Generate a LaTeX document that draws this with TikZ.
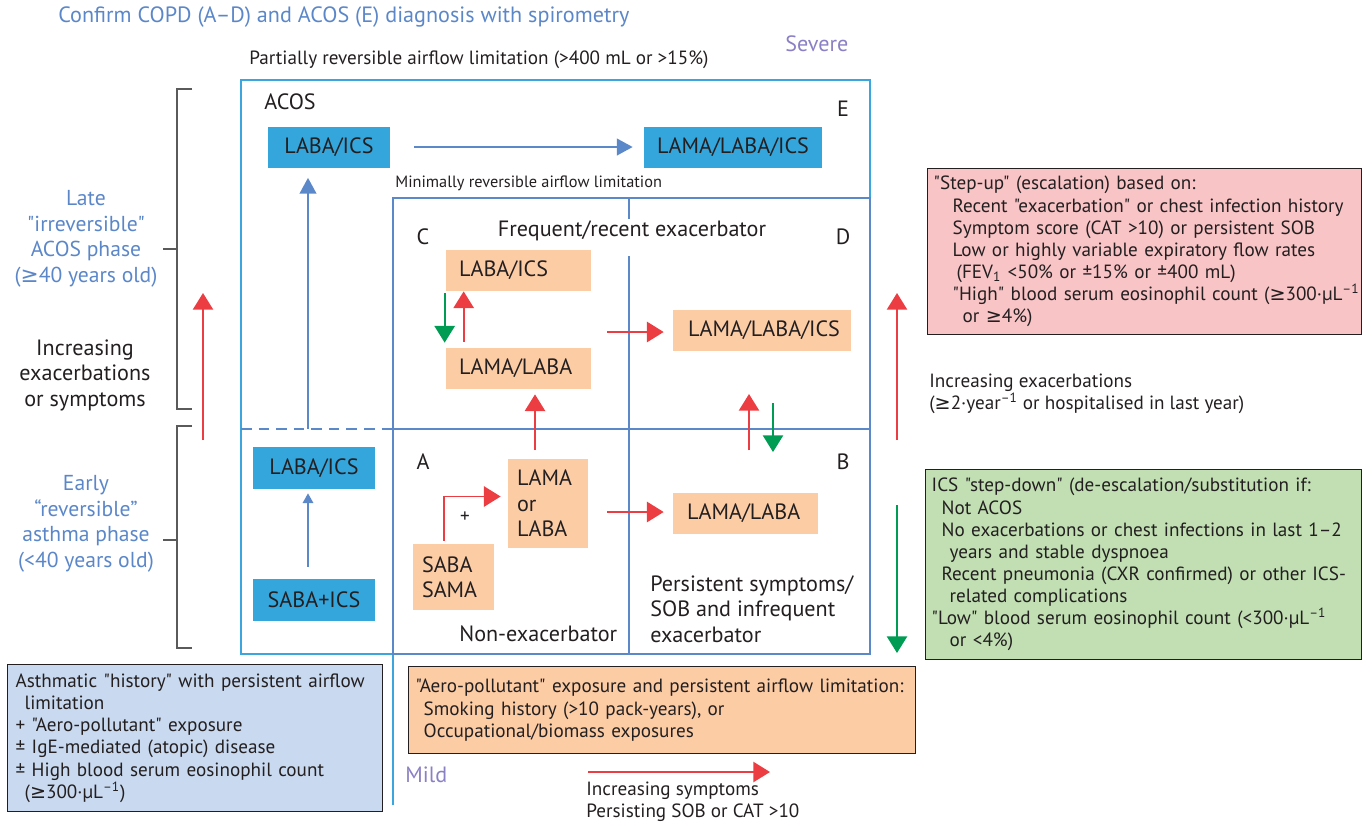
\documentclass[tikz,border=0pt]{standalone}
\usepackage{fontspec}
\setmainfont{PT Sans}[Ligatures=TeXOff]
\newfontfamily\symfont{DejaVu Sans}
\usetikzlibrary{arrows.meta}

\definecolor{textdark}{RGB}{35,31,32}
\definecolor{titleblue}{RGB}{91,135,201}
\definecolor{sevpurple}{RGB}{138,128,196}
\definecolor{cyanline}{RGB}{58,166,221}
\definecolor{lineblue}{RGB}{91,136,200}
\definecolor{nodeblue}{RGB}{52,166,220}
\definecolor{orangefill}{RGB}{252,204,165}
\definecolor{arrowred}{RGB}{236,62,66}
\definecolor{arrowgreen}{RGB}{0,156,84}
\definecolor{pinkfill}{RGB}{248,196,198}
\definecolor{greenfill}{RGB}{193,223,179}
\definecolor{bluefill}{RGB}{201,217,239}
\definecolor{bracketgray}{RGB}{90,90,90}

\newcommand{\geqs}{{\symfont\char"2265}}
\newcommand{\perul}{·μL\textsuperscript{–1}}

\begin{document}
\begin{tikzpicture}[x=0.02cm,y=-0.02cm,
    bluebox/.style={fill=nodeblue,inner sep=0pt,text=textdark,font=\fontsize{12.6}{14.5}\selectfont},
    orangebox/.style={fill=orangefill,inner sep=0pt,text=textdark,font=\fontsize{12.6}{14.5}\selectfont,align=left},
    areatext/.style={inner sep=0pt,text=textdark,font=\fontsize{12.6}{14.5}\selectfont,align=left},
    phasetext/.style={inner sep=0pt,text=titleblue,font=\fontsize{12.3}{14.5}\selectfont,align=center},
    smalltext/.style={inner sep=0pt,text=textdark,font=\fontsize{10.9}{12.6}\selectfont,align=left},
    infobox/.style={smalltext,draw=textdark,line width=0.8pt,anchor=north west,inner xsep=0.12cm},
    frame/.style={line width=1.6pt},
    redarrow/.style={arrowred,line width=1.1pt,-{Triangle[length=9.5pt,width=11.5pt]}},
    greenarrow/.style={arrowgreen,line width=1.1pt,-{Triangle[length=9.5pt,width=11.5pt]}},
    bluearrow/.style={lineblue,line width=1.1pt,-{Triangle[length=9pt,width=9.5pt]}},
    thinarrow/.style={lineblue,line width=0.8pt,-{Triangle[length=5.5pt,width=6pt]}},
  ]
  \useasboundingbox (0,0) rectangle (1369,823);

  % frames of the ACOS area and the A-D grid
  \draw[frame,cyanline] (870,198) -- (870,80) -- (241,80) -- (241,654) -- (393,654) -- (393,805);
  \draw[frame,lineblue] (393,198) rectangle (870,654);
  \draw[frame,lineblue] (393,429) -- (870,429);
  \draw[frame,lineblue] (629,198) -- (629,219) (629,256) -- (629,654);
  \draw[frame,lineblue,dashed,dash pattern=on 6pt off 4pt] (241,429) -- (393,429);

  % brackets
  \draw[bracketgray,line width=1pt] (192,89) -- (177,89) -- (177,409) -- (192,409) (177,249) -- (163,249);
  \draw[bracketgray,line width=1pt] (192,426) -- (177,426) -- (177,648) -- (192,648) (177,540) -- (163,540);

  % treatment boxes
  \node[bluebox,minimum width=2.44cm,minimum height=0.82cm] (eLabaIcs) at (329,147) {LABA/ICS};
  \node[bluebox,minimum width=3.56cm,minimum height=0.82cm] (eTriple) at (733,147) {LAMA/LABA/ICS};
  \node[bluebox,minimum width=2.44cm,minimum height=0.84cm] (earlyLabaIcs) at (314,468) {LABA/ICS};
  \node[bluebox,minimum width=2.44cm,minimum height=0.84cm] (sabaIcs) at (314,600) {SABA+ICS};
  \node[orangebox,inner xsep=0.26cm,text width=2.38cm,minimum height=0.82cm] (cLabaIcs) at (518.5,270.5) {LABA/ICS};
  \node[orangebox,inner xsep=0.26cm,text width=2.38cm,minimum height=0.82cm] (cLamaLaba) at (518.5,368.5) {LAMA/LABA};
  \node[orangebox,inner xsep=0.3cm,text width=2.96cm,minimum height=0.82cm] (dTriple) at (762,330.5) {LAMA/LABA/ICS};
  \node[orangebox,inner xsep=0.18cm,text width=1.24cm,minimum height=1.78cm] (aLamaOr) at (548,503.5) {LAMA\\or\\LABA};
  \node[orangebox,inner xsep=0.18cm,text width=1.26cm,minimum height=1.32cm] (sabaSama) at (453.5,577) {SABA\\SAMA};
  \node[orangebox,inner xsep=0.28cm,text width=2.34cm,minimum height=0.82cm] (bLamaLaba) at (745.5,513.5) {LAMA/LABA};

  % texts
  \node[inner sep=0pt,text=titleblue,font=\fontsize{12.6}{14}\selectfont,anchor=west] (title) at (58,17) {Confirm COPD (A–D) and ACOS (E) diagnosis with spirometry};
  \node[smalltext,anchor=west] (partial) at (249,60) {Partially reversible airflow limitation (>400 mL or >15\%)};
  \node[areatext,text=sevpurple,anchor=west] (severe) at (785,44) {Severe};
  \node[areatext,text=sevpurple,anchor=west] (mild) at (405,775) {Mild};
  \node[areatext,anchor=west] (acos) at (264,102) {ACOS};
  \node[areatext] (areaE) at (843,109) {E};
  \node[areatext] (areaC) at (423,237) {C};
  \node[areatext] (areaD) at (843,237) {D};
  \node[areatext] (areaA) at (423,462) {A};
  \node[areatext] (areaB) at (843,462) {B};
  \node[smalltext,font=\fontsize{9.3}{11}\selectfont,anchor=west] (minimal) at (395,183) {Minimally reversible airflow limitation};
  \node[areatext] (frequent) at (632,231) {Frequent/recent exacerbator};
  \node[areatext,anchor=west] (nonexac) at (459,634) {Non-exacerbator};
  \node[areatext,anchor=west] (persistent) at (650,609) {Persistent symptoms/\\SOB and infrequent\\exacerbator};
  \node[smalltext] (plus) at (465,517) {+};
  \node[phasetext] (latePhase) at (86,239) {Late\\"irreversible"\\ACOS phase\\(\geqs40 years old)};
  \node[areatext,align=center] (incLeft) at (85,375) {Increasing\\exacerbations\\or symptoms};
  \node[phasetext] (earlyPhase) at (86,524) {Early\\“reversible”\\asthma phase\\(<40 years old)};
  \node[smalltext,anchor=west] (incRight) at (929,394) {Increasing exacerbations\\(\geqs2·year\textsuperscript{–1} or hospitalised in last year)};
  \node[smalltext,anchor=west] (incBottom) at (586,802) {Increasing symptoms\\Persisting SOB or CAT >10};

  % information boxes
  \node[infobox,fill=pinkfill,text width=8.44cm,minimum height=3.32cm] (stepUp) at (927,168) {"Step-up" (escalation) based on:\\
    \hspace*{0.38cm}Recent "exacerbation" or chest infection history\\
    \hspace*{0.38cm}Symptom score (CAT >10) or persistent SOB\\
    \hspace*{0.38cm}Low or highly variable expiratory flow rates\\
    \hspace*{0.46cm}(FEV\textsubscript{1} <50\% or ±15\% or ±400 mL)\\
    \hspace*{0.38cm}\mbox{"High" blood serum eosinophil count (\geqs300\perul}\\
    \hspace*{0.58cm}or \geqs4\%)};
  \node[infobox,fill=greenfill,text width=8.48cm,minimum height=3.8cm] (stepDown) at (925,469) {ICS "step-down" (de-escalation/substitution if:\\
    \hspace*{0.2cm}Not ACOS\\
    \hspace*{0.2cm}No exacerbations or chest infections in last 1–2\\
    \hspace*{0.36cm}years and stable dyspnoea\\
    \hspace*{0.2cm}Recent pneumonia (CXR confirmed) or other ICS-\\
    \hspace*{0.36cm}related complications\\
    \mbox{"Low" blood serum eosinophil count (<300\perul}\\
    \hspace*{0.36cm}or <4\%)};
  \node[infobox,fill=bluefill,text width=7.18cm,minimum height=2.94cm,inner xsep=0.16cm] (asthmaHist) at (7,664) {Asthmatic "history" with persistent airflow\\
    \hspace*{0.18cm}limitation\\
    + "Aero-pollutant" exposure\\
    ± IgE-mediated (atopic) disease\\
    ± High blood serum eosinophil count\\
    \hspace*{0.18cm}(\geqs300\perul)};
  \node[infobox,fill=orangefill,text width=9.86cm,minimum height=1.74cm,inner xsep=0.14cm] (pollutant) at (408,666) {"Aero-pollutant" exposure and persistent airflow limitation:\\
    \hspace*{0.16cm}Smoking history (>10 pack-years), or\\
    \hspace*{0.16cm}Occupational/biomass exposures};

  % connectors
  \coordinate (dashMid) at (308,429);
  \coordinate (cOut) at (607,332);
  \coordinate (aUp) at (535,450);
  \coordinate (aOut) at (607,512);
  \coordinate (bdUpStart) at (749,450);
  \coordinate (bdUpEnd) at (749,394);
  \coordinate (bdDownStart) at (773,403);
  \coordinate (bdDownEnd) at (773,452);
  \coordinate (leftUpStart) at (203,440);
  \coordinate (leftUpEnd) at (203,293);
  \coordinate (rightUpStart) at (897,440);
  \coordinate (rightUpEnd) at (897,293);
  \coordinate (rightDownStart) at (897,505);
  \coordinate (rightDownEnd) at (897,653);
  \coordinate (symStart) at (588,772);
  \coordinate (symEnd) at (770,772);

  \draw[bluearrow,shorten <=0.48cm,shorten >=0.22cm] (eLabaIcs) -- (eTriple);
  \draw[bluearrow,shorten >=0.2cm] (dashMid) -- (dashMid |- eLabaIcs.south);
  \draw[thinarrow,shorten <=0.24cm,shorten >=0.08cm] ([xshift=-0.12cm]sabaIcs.north) -- ([xshift=-0.12cm]earlyLabaIcs.south);
  \draw[greenarrow,shorten <=0.04cm,shorten >=0.1cm] ([xshift=-0.02cm]cLabaIcs.south west) -- ([xshift=-0.02cm]cLamaLaba.north west);
  \draw[redarrow,shorten <=0.12cm] ([xshift=0.36cm]cLamaLaba.north west) -- ([xshift=0.36cm]cLabaIcs.south west);
  \draw[redarrow,shorten >=0.18cm] (cOut) -- (cOut -| dTriple.west);
  \draw[redarrow,shorten >=0.1cm] (aUp) -- (aUp |- cLamaLaba.south);
  \draw[redarrow] ([xshift=0.62cm,yshift=0.06cm]sabaSama.north west) |- ([xshift=-0.14cm,yshift=0.14cm]aLamaOr.west);
  \draw[redarrow,shorten >=0.18cm] (aOut) -- (aOut -| bLamaLaba.west);
  \draw[redarrow] (bdUpStart) -- (bdUpEnd);
  \draw[greenarrow] (bdDownStart) -- (bdDownEnd);
  \draw[redarrow] (leftUpStart) -- (leftUpEnd);
  \draw[redarrow] (rightUpStart) -- (rightUpEnd);
  \draw[greenarrow] (rightDownStart) -- (rightDownEnd);
  \draw[redarrow] (symStart) -- (symEnd);
\end{tikzpicture}
\end{document}
